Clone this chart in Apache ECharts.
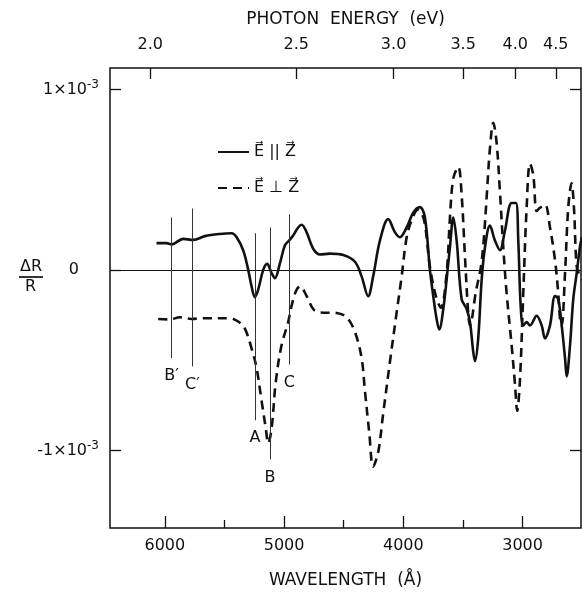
<!DOCTYPE html>
<html><head><meta charset="utf-8">
<script src="https://cdn.jsdelivr.net/npm/echarts@6/dist/echarts.min.js"></script>
<style>html,body{margin:0;padding:0;background:#fff}#c{width:582px;height:594px}</style>
</head><body><div id="c"></div>
<script>
// E parallel Z (solid): wavelength (Å) and ΔR/R in units of 1e-3
const parWavelength = [6070,5986,5944,5846,5763,5664,5539,5440,5398,5343,5301,5273,5245,5217,5175,5142,5105,5077,5035,4993,4957,4924,4882,4853,4811,4756,4700,4616,4504,4406,4350,4295,4253,4196,4127,4070,4029,3972,3917,3861,3819,3777,3749,3721,3699,3665,3623,3609,3581,3553,3511,3469,3441,3414,3399,3372,3343,3315,3274,3232,3190,3148,3092,3056,3036,3016,2994,2966,2938,2882,2840,2812,2770,2728,2701,2672,2644,2630,2602,2575,2546,2519,2502];
const parDR = [0.149,0.149,0.142,0.173,0.167,0.188,0.200,0.204,0.182,0.110,0.001,-0.090,-0.150,-0.108,0.001,0.034,-0.017,-0.045,0.037,0.137,0.164,0.191,0.236,0.251,0.209,0.118,0.086,0.091,0.083,0.046,-0.035,-0.145,-0.035,0.164,0.282,0.209,0.182,0.236,0.318,0.349,0.291,0.001,-0.144,-0.271,-0.330,-0.216,0.037,0.128,0.291,0.164,-0.162,-0.216,-0.289,-0.452,-0.505,-0.379,-0.053,0.128,0.246,0.164,0.110,0.218,0.372,0.372,0.164,-0.198,-0.307,-0.289,-0.307,-0.253,-0.307,-0.379,-0.307,-0.144,-0.162,-0.307,-0.488,-0.590,-0.416,-0.162,-0.017,0.128,0.182];
// E perpendicular Z (dashed)
const perpWavelength = [6056,5958,5874,5776,5679,5455,5385,5329,5273,5231,5189,5153,5133,5105,5069,5021,4966,4937,4901,4867,4811,4756,4700,4560,4476,4406,4350,4322,4286,4253,4211,4169,4112,4056,4014,3972,3928,3878,3827,3777,3727,3685,3637,3609,3581,3539,3511,3483,3456,3441,3391,3349,3324,3299,3274,3246,3218,3190,3162,3134,3092,3064,3045,3022,2994,2966,2938,2910,2882,2854,2812,2770,2728,2701,2686,2672,2644,2617,2589,2569,2546,2519,2502];
const perpDR = [-0.271,-0.274,-0.262,-0.271,-0.267,-0.267,-0.285,-0.325,-0.434,-0.542,-0.724,-0.880,-0.960,-0.880,-0.615,-0.416,-0.289,-0.198,-0.117,-0.090,-0.144,-0.216,-0.235,-0.238,-0.262,-0.343,-0.488,-0.670,-0.900,-1.090,-1.010,-0.796,-0.507,-0.235,-0.035,0.182,0.280,0.334,0.280,0.019,-0.144,-0.209,-0.017,0.291,0.508,0.572,0.417,0.073,-0.235,-0.307,-0.117,0.019,0.182,0.427,0.671,0.816,0.708,0.436,0.128,-0.126,-0.416,-0.630,-0.780,-0.610,-0.126,0.345,0.590,0.526,0.327,0.345,0.363,0.236,0.055,-0.126,-0.271,-0.307,-0.017,0.345,0.481,0.345,0.019,-0.035,-0.053];

const seriesNames = ['E\u20D7 || Z\u20D7', 'E\u20D7 \u22A5 Z\u20D7'];
const wavelengthMajorTicks = [6000,5000,4000,3000];
const wavelengthMinorTicks = [5500,4500,3500];
const energyTicks = [2.0,2.5,3.0,3.5,4.0,4.5];
const yTicks = [-1,0,1];
const markerNames = ['B\u2032','C\u2032','A','B','C'];
const markerWavelength = [5944,5768,5245,5119,4957];
const markerTop = [0.291,0.341,0.204,0.236,0.309];
const markerBottom = [-0.488,-0.534,-0.833,-1.050,-0.524];

const X_MIN = 2510, X_MAX = 6460, Y_MIN = -1.43, Y_MAX = 1.12;
const HC = 12245; // energy (eV) * wavelength (Å) as placed on the figure's top scale
const FONT = 'DejaVu Sans', INK = '#111';

const zip = (a, b) => a.map((v, i) => [v, b[i]]);
const energyPos = energyTicks.map(e => HC / e);

const chart = echarts.init(document.getElementById('c'), null, {renderer: 'canvas'});
const baseX = {type: 'value', inverse: true, min: X_MIN, max: X_MAX, axisLine: {show: false, onZero: false}, splitLine: {show: false}};
const tickStyle = {color: INK, width: 1.3};
chart.setOption({
  backgroundColor: '#fff',
  animation: false,
  grid: {left: 110, right: 1, top: 68, bottom: 58, show: true, borderColor: INK, borderWidth: 1.5, backgroundColor: 'transparent'},
  xAxis: [
    Object.assign({}, baseX, {
      position: 'bottom',
      axisTick: {show: true, inside: true, length: 12, customValues: wavelengthMajorTicks, lineStyle: tickStyle},
      axisLabel: {customValues: wavelengthMajorTicks, margin: 10, fontSize: 16, color: INK, fontFamily: FONT,
        formatter: v => String(v)},
      name: 'WAVELENGTH  (Å)', nameLocation: 'middle', nameGap: 44,
      nameTextStyle: {fontSize: 17, color: INK, fontFamily: FONT}
    }),
    Object.assign({}, baseX, {
      position: 'bottom',
      axisTick: {show: true, inside: true, length: 8, customValues: wavelengthMinorTicks, lineStyle: tickStyle},
      axisLabel: {show: false}
    }),
    Object.assign({}, baseX, {
      position: 'top',
      axisTick: {show: true, inside: true, length: 11, customValues: energyPos, lineStyle: tickStyle},
      axisLabel: {customValues: energyPos, margin: 15, fontSize: 16, color: INK, fontFamily: FONT,
        formatter: v => (HC / v).toFixed(1)},
      name: 'PHOTON  ENERGY  (eV)', nameLocation: 'middle', nameGap: 40,
      nameTextStyle: {fontSize: 17, color: INK, fontFamily: FONT}
    })
  ],
  yAxis: [
    {type: 'value', min: Y_MIN, max: Y_MAX, position: 'left', axisLine: {show: false, onZero: false}, splitLine: {show: false},
      axisTick: {show: true, inside: true, length: 11, customValues: yTicks, lineStyle: tickStyle},
      axisLabel: {customValues: yTicks, margin: 11, color: INK, fontFamily: FONT, fontSize: 16,
        formatter: v => v === 0 ? '{z|0}' : '{b|' + (v < 0 ? '-' : '') + '1×10}{s|-3}',
        rich: {
          b: {fontSize: 16, fontFamily: FONT, color: INK},
          s: {fontSize: 12, fontFamily: FONT, color: INK, verticalAlign: 'top', padding: [0, 0, 10, 0]},
          z: {fontSize: 16, fontFamily: FONT, color: INK, padding: [0, 20, 0, 0]}
        }}},
    {type: 'value', min: Y_MIN, max: Y_MAX, position: 'right', axisLine: {show: false, onZero: false}, splitLine: {show: false},
      axisTick: {show: true, inside: true, length: 11, customValues: yTicks, lineStyle: tickStyle},
      axisLabel: {show: false}}
  ],
  legend: {
    orient: 'vertical', left: 217, top: 144, padding: 0, itemWidth: 31, itemHeight: 14, itemGap: 20,
    itemStyle: {color: 'rgba(0,0,0,0)', borderColor: 'rgba(0,0,0,0)', borderWidth: 0},
    textStyle: {fontSize: 16, color: INK, fontFamily: FONT},
    data: seriesNames
  },
  graphic: [
    {type: 'text', left: 20, top: 259, style: {text: 'ΔR', font: '16px "DejaVu Sans"', fill: INK}},
    {type: 'line', shape: {x1: 19, y1: 277, x2: 43, y2: 277}, style: {stroke: INK, lineWidth: 1.7}},
    {type: 'text', left: 25, top: 279, style: {text: 'R', font: '16px "DejaVu Sans"', fill: INK}}
  ],
  series: [
    {
      name: seriesNames[0], type: 'line', data: zip(parWavelength, parDR), xAxisIndex: 0, yAxisIndex: 0,
      smooth: 0.35, symbol: 'none', showSymbol: false, lineStyle: {color: INK, width: 2.6}, itemStyle: {color: INK}, z: 3,
      markLine: {
        silent: true, symbol: ['none', 'none'], animation: false,
        lineStyle: {color: '#333', width: 1, type: 'solid'},
        label: {show: true, position: 'end', distance: 10, formatter: p => p.name, fontSize: 16, color: INK, fontFamily: FONT},
        data: [
          {yAxis: 0, name: '', label: {show: false}, lineStyle: {color: INK, width: 1.2}},
          ...markerNames.map((n, i) => [
            {name: n, coord: [markerWavelength[i], markerTop[i]]},
            {name: n, coord: [markerWavelength[i], markerBottom[i]]}
          ])
        ]
      }
    },
    {
      name: seriesNames[1], type: 'line', data: zip(perpWavelength, perpDR), xAxisIndex: 0, yAxisIndex: 0,
      smooth: 0.35, symbol: 'none', showSymbol: false, lineStyle: {color: INK, width: 2.6, type: [9, 6]}, itemStyle: {color: INK}, z: 3
    }
  ]
});
</script></body></html>
